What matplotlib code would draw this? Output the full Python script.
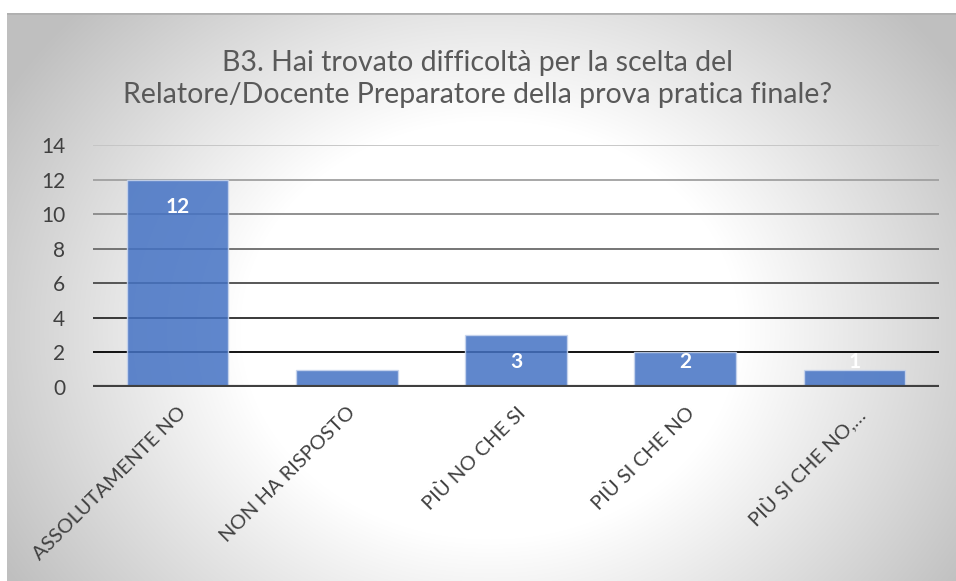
import numpy as np
import matplotlib
matplotlib.use("Agg")
import matplotlib.pyplot as plt

categories = ["ASSOLUTAMENTE NO", "NON HA RISPOSTO", "PIÙ NO CHE SI", "PIÙ SI CHE NO", "PIÙ SI CHE NO,…"]
values = [12, 1, 3, 2, 1]
yticks = [0, 2, 4, 6, 8, 10, 12, 14]
title = "B3. Hai trovato difficoltà per la scelta del\nRelatore/Docente Preparatore della prova pratica finale?"

W, H = 956, 581
fig = plt.figure(figsize=(W / 100, H / 100), dpi=100)
fig.patch.set_facecolor("white")

# radial gradient background
bg = fig.add_axes([7 / W, 0, (W - 7) / W, (H - 13) / H])
bw, bh = W - 7, H - 13
xx, yy = np.meshgrid(np.arange(bw) + 7, np.arange(bh) + 13)
cx, cy = 490, 330
r = np.sqrt(((xx - cx) / 500.0) ** 2 + ((yy - cy) / 420.0) ** 2)
loss = np.clip(0.4 * (r - 0.5), 0, 0.25)
g = 1.0 - loss
img = np.dstack([g, g, g])
bg.imshow(img, aspect="auto", origin="upper", extent=[0, 1, 0, 1])
bg.axhline(1, color="#b0b0b0", lw=2)
bg.set_axis_off()

ax = fig.add_axes([93 / W, 1 - 387 / H, (939 - 93) / W, (387 - 145) / H])
ax.patch.set_alpha(0)
x = np.arange(len(categories))
ax.set_xlim(-0.5, len(categories) - 0.5)
ax.set_ylim(0, 14)

grid_colors = ["#404040", "#000000", "#2a2a2a", "#4a4a4a", "#6a6a6a", "#888888", "#a0a0a0", "#c4c4c4"]
for t, c in zip(yticks, grid_colors):
    if t == 0:
        continue
    ax.axhline(t, color=c, lw=1.3, zorder=1)

ax.bar(x, values, width=0.6, color="#4472C4", alpha=0.85, edgecolor="#c9d6ee", linewidth=1.0, zorder=2)
ax.axhline(0, color="#404040", lw=3, zorder=3)

for xi, v in zip(x, values):
    ly = max(v - 1.6, 1.45)
    ax.text(xi, ly, str(v), ha="center", va="center", color="white",
            fontsize=15, fontweight="bold", family="Lato", zorder=4)

for s in ax.spines.values():
    s.set_visible(False)
ax.set_yticks(yticks)
ax.set_yticklabels([str(t) for t in yticks], fontsize=15, color="#404040", family="Lato")
ax.tick_params(axis="y", length=0, pad=20)
ax.set_xticks(x)
ax.set_xticklabels(categories, rotation=45, ha="right", rotation_mode="anchor",
                   fontsize=14.5, color="#404040", family="Lato")
ax.tick_params(axis="x", length=0, pad=12)

fig.text(478 / W, 1 - 79 / H, title, ha="center", va="center", fontsize=20.5,
         color="#595959", family="Lato", linespacing=1.3)

fig.savefig("out.png", dpi=100)
